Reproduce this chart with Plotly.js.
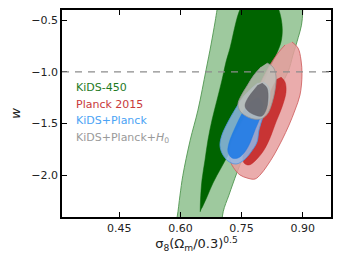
<!DOCTYPE html>
<html>
<head>
<meta charset="utf-8">
<script src="https://cdn.plot.ly/plotly-3.0.1.min.js"></script>
<style>html,body{margin:0;padding:0;background:#fff;}#chart{width:341px;height:264px;}</style>
</head>
<body>
<div id="chart"></div>
<script>
// Contour boundaries: x = sigma8*(Om/0.3)^0.5, w
const kids95_x = [0.584,0.592,0.599,0.606,0.624,0.643,0.663,0.675,0.685,0.690,0.695,0.722,0.795,0.869,0.898,0.900,0.897,0.889,0.876,0.864,0.826,0.790,0.766,0.739,0.719,0.705,0.700];
const kids95_w = [-2.53,-2.40,-2.19,-2.00,-1.66,-1.37,-0.98,-0.74,-0.52,-0.40,-0.31,-0.16,-0.11,-0.16,-0.31,-0.42,-0.55,-0.67,-0.84,-1.00,-1.27,-1.53,-1.71,-1.97,-2.19,-2.35,-2.53];
const kids68_x = [0.6485,0.6493,0.6529,0.6603,0.6676,0.6775,0.6898,0.7020,0.7118,0.7217,0.7290,0.7364,0.7437,0.7535,0.7707,0.8002,0.8247,0.8394,0.8468,0.8500,0.8468,0.8345,0.8149,0.7953,0.7756,0.7486,0.7217,0.6996,0.6800,0.6652,0.6529];
const kids68_w = [-2.353,-2.237,-2.044,-1.851,-1.658,-1.465,-1.272,-1.079,-0.905,-0.770,-0.645,-0.519,-0.423,-0.346,-0.288,-0.268,-0.307,-0.384,-0.481,-0.597,-0.712,-0.838,-1.002,-1.195,-1.417,-1.610,-1.774,-1.929,-2.073,-2.208,-2.314];
const planck95_x = [0.8738,0.8885,0.8959,0.8983,0.8934,0.8812,0.8665,0.8493,0.8296,0.8124,0.7977,0.7830,0.7634,0.7462,0.7364,0.7241,0.7192,0.7266,0.7462,0.7658,0.7855,0.8027,0.8198,0.8394,0.8566];
const planck95_w = [-0.712,-0.770,-0.886,-1.031,-1.224,-1.369,-1.514,-1.658,-1.803,-1.909,-1.986,-2.035,-2.025,-1.996,-1.958,-1.880,-1.774,-1.658,-1.514,-1.369,-1.205,-1.060,-0.934,-0.819,-0.741];
const planck68_x = [0.8468,0.8566,0.8591,0.8493,0.8345,0.8198,0.8051,0.7855,0.7683,0.7560,0.7535,0.7658,0.7830,0.8002,0.8149,0.8272,0.8370];
const planck68_w = [-1.050,-1.098,-1.195,-1.340,-1.485,-1.639,-1.755,-1.851,-1.900,-1.880,-1.813,-1.707,-1.562,-1.398,-1.253,-1.137,-1.069];
const kp95_x = [0.8026,0.8149,0.8198,0.8149,0.8026,0.7928,0.7879,0.7732,0.7560,0.7364,0.7167,0.7020,0.6971,0.7020,0.7167,0.7364,0.7560,0.7756,0.7904];
const kp95_w = [-1.098,-1.137,-1.214,-1.320,-1.436,-1.562,-1.678,-1.774,-1.851,-1.890,-1.861,-1.784,-1.707,-1.610,-1.485,-1.349,-1.234,-1.156,-1.108];
const kp68_x = [0.7904,0.8026,0.7977,0.7830,0.7683,0.7560,0.7413,0.7266,0.7167,0.7192,0.7339,0.7535,0.7732];
const kp68_w = [-1.243,-1.311,-1.417,-1.562,-1.707,-1.784,-1.832,-1.832,-1.774,-1.687,-1.542,-1.388,-1.282];
const kph95_x = [0.8125,0.8272,0.8345,0.8321,0.8247,0.8149,0.8002,0.7805,0.7609,0.7462,0.7413,0.7487,0.7634,0.7805,0.7977];
const kph95_w = [-0.915,-0.954,-1.041,-1.176,-1.301,-1.398,-1.451,-1.456,-1.427,-1.378,-1.311,-1.234,-1.137,-1.031,-0.954];
const kph68_x = [0.8002,0.8125,0.8149,0.8100,0.8002,0.7830,0.7658,0.7585,0.7658,0.7805,0.7904];
const kph68_w = [-1.108,-1.156,-1.272,-1.369,-1.427,-1.417,-1.378,-1.330,-1.253,-1.176,-1.127];

const legendLabels = ["KiDS-450", "Planck 2015", "KiDS+Planck", "KiDS+Planck+<i>H</i><sub>0</sub>"];
const legendColors = ["#1f7a1f", "#c8393b", "#4ba3f5", "#9a9a9a"];
const xTickVals = [0.45, 0.60, 0.75, 0.90];
const xTickText = ["0.45", "0.60", "0.75", "0.90"];
const yTickVals = [-0.5, -1.0, -1.5, -2.0];
const yTickText = ["\u22120.5", "\u22121.0", "\u22121.5", "\u22122.0"];
const wLambda = -1.0;

function region(xs, ws, fill, line, lw) {
  return {
    type: 'scatter', mode: 'lines', x: xs, y: ws, fill: 'toself', fillcolor: fill,
    line: {color: line, width: lw, shape: 'spline', smoothing: 1},
    hoverinfo: 'skip', showlegend: false
  };
}

const traces = [
  region(kids95_x, kids95_w, 'rgb(158,201,158)', 'rgb(80,150,80)', 0.9),
  region(kids68_x, kids68_w, 'rgb(0,100,0)', 'rgb(0,100,0)', 0.5),
  region(planck95_x, planck95_w, 'rgba(230,157,157,0.85)', 'rgba(205,90,90,0.9)', 0.9),
  region(planck68_x, planck68_w, 'rgba(194,30,30,0.85)', 'rgba(194,30,30,0.85)', 0.5),
  region(kp95_x, kp95_w, 'rgba(143,184,231,0.85)', 'rgba(80,150,225,0.9)', 0.9),
  region(kp68_x, kp68_w, 'rgba(25,119,229,0.85)', 'rgba(25,119,229,0.85)', 0.5),
  region(kph95_x, kph95_w, 'rgba(192,192,184,0.85)', 'rgba(150,150,150,0.9)', 0.9),
  region(kph68_x, kph68_w, 'rgba(95,95,102,0.85)', 'rgba(95,95,102,0.85)', 0.5)
];

const legendY = [0.627, 0.544, 0.465, 0.383];
const annotations = legendLabels.map((t, i) => ({
  text: t, xref: 'paper', yref: 'paper', x: 0.045, y: legendY[i],
  xanchor: 'left', yanchor: 'middle', showarrow: false,
  font: {family: 'DejaVu Sans', size: 11, color: legendColors[i]}
}));

const layout = {
  width: 341, height: 264,
  margin: {l: 62, r: 10, t: 10, b: 47},
  paper_bgcolor: '#fff', plot_bgcolor: '#fff',
  font: {family: 'DejaVu Sans', size: 11, color: '#222'},
  xaxis: {
    range: [0.3094, 0.9695], tickvals: xTickVals, ticktext: xTickText,
    ticks: 'inside', ticklen: 5, tickwidth: 1, tickcolor: '#000',
    showline: true, linecolor: '#000', linewidth: 1.5, mirror: 'ticks',
    showgrid: false, zeroline: false,
    tickfont: {family: 'DejaVu Sans', size: 11, color: '#222'},
    title: {text: '\u03c3<sub>8</sub>(\u03a9<sub>m</sub>/0.3)<sup>0.5</sup>', font: {family: 'DejaVu Sans', size: 13, color: '#222'}, standoff: 5}
  },
  yaxis: {
    range: [-2.4015, -0.4035], tickvals: yTickVals, ticktext: yTickText,
    ticks: 'inside', ticklen: 5, tickwidth: 1, tickcolor: '#000',
    showline: true, linecolor: '#000', linewidth: 1.5, mirror: 'ticks',
    showgrid: false, zeroline: false,
    tickfont: {family: 'DejaVu Sans', size: 11, color: '#222'},
    title: {text: '<i>w</i>', font: {family: 'DejaVu Sans', size: 13, color: '#222'}, standoff: 8}
  },
  shapes: [{
    type: 'line', xref: 'paper', x0: 0, x1: 1, yref: 'y', y0: wLambda, y1: wLambda,
    line: {color: '#8c8c8c', width: 1.2, dash: '7px,6px'}, layer: 'above'
  }],
  annotations: annotations
};

Plotly.newPlot('chart', traces, layout, {displayModeBar: false});
</script>
</body>
</html>
